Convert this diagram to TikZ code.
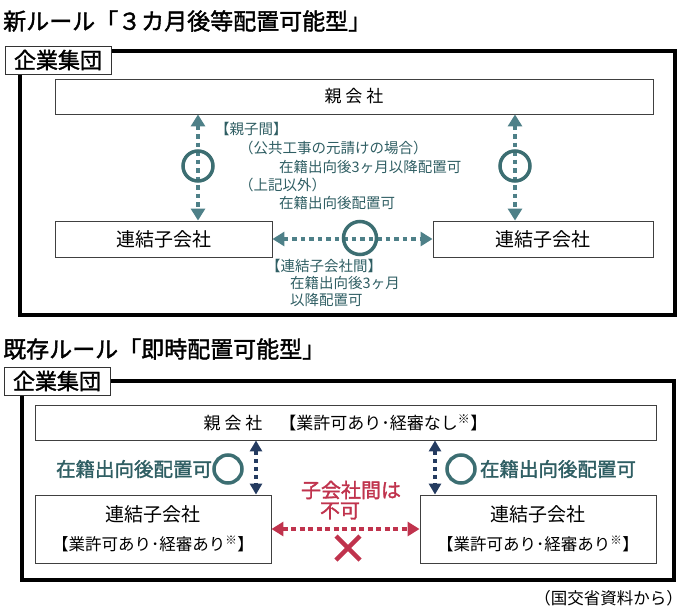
\documentclass[tikz,border=0pt]{standalone}
\usepackage{fontspec}
\setmainfont{Noto Sans CJK JP}
\newfontfamily\heavyfont[FakeBold=1.6]{Noto Sans CJK JP}
\usetikzlibrary{arrows.meta}
\definecolor{arrteal}{HTML}{4E8088}
\definecolor{ringteal}{HTML}{3C6E72}
\definecolor{txtteal}{HTML}{2F5E63}
\definecolor{arrnavy}{HTML}{243B60}
\definecolor{ngred}{HTML}{C0334D}
\begin{document}
\begin{tikzpicture}[x=1pt,y=-1pt,
	box/.style={draw=black!75,line width=0.9pt,fill=white,inner sep=0pt,align=center},
	frame/.style={line width=4pt},
	tag/.style={draw=black!80,line width=0.8pt,fill=white,inner sep=0pt,minimum width=106pt,minimum height=28pt,font=\heavyfont\fontsize{22}{22}\selectfont},
	title/.style={anchor=west,inner sep=0pt,font=\heavyfont\fontsize{23}{23}\selectfont},
	ring/.style={circle,draw=ringteal,line width=3.5pt,inner sep=0pt},
	okarrow/.style={arrteal,line width=4.5pt,dash pattern=on 4.5pt off 4pt,{Triangle[width=14pt,length=12pt]}-{Triangle[width=14pt,length=12pt]}},
	navyarrow/.style={arrnavy,line width=4pt,dash pattern=on 4pt off 4pt,{Triangle[width=12pt,length=11pt]}-{Triangle[width=12pt,length=11pt]}},
	ngarrow/.style={ngred,line width=4.5pt,dash pattern=on 5pt off 3.5pt,{Triangle[width=14pt,length=12pt]}-{Triangle[width=14pt,length=12pt]}},
	note/.style={anchor=west,inner sep=0pt,text=txtteal,font=\fontsize{14.5}{14.5}\selectfont},
	oktext/.style={inner sep=0pt,text=txtteal,font=\heavyfont\fontsize{19.5}{19.5}\selectfont},
	ngtext/.style={inner sep=0pt,text=ngred,font=\heavyfont\fontsize{20}{20}\selectfont}]
	\useasboundingbox (0,0) rectangle (685,613);
	
	% 新ルール
	\node[title] (title1) at (3,21) {新ルール「３カ月後等配置可能型」};
	\draw[frame] (20,51) rectangle (675,315);
	\node[tag] (group1) at (58,60) {企業集団};
	\node[box,minimum width=598pt,minimum height=35pt,font=\fontsize{17}{17}\selectfont] (oya1) at (354,96.5) {親 会 社};
	\node[box,minimum width=217pt,minimum height=36pt,font=\fontsize{19}{19}\selectfont] (koA1) at (163.5,239) {連結子会社};
	\node[box,minimum width=220pt,minimum height=36pt,font=\fontsize{19}{19}\selectfont] (koB1) at (543,239) {連結子会社};
	\coordinate (cL1) at (198,166);
	\coordinate (cR1) at (515,166);
	\coordinate (cM1) at (360,238);
	\draw[okarrow] (oya1.south -| cL1) -- (koA1.north -| cL1);
	\draw[okarrow] (oya1.south -| cR1) -- (koB1.north -| cR1);
	\draw[okarrow] (koA1.east) -- (koB1.west);
	\node[ring,minimum size=30pt] (ringL1) at (cL1) {};
	\node[ring,minimum size=30pt] (ringR1) at (cR1) {};
	\node[ring,minimum size=33pt] (ringM1) at (cM1) {};
	\node[note] (n1) at (215,129) {【親子間】};
	\node[note] (n2) at (239,148) {（公共工事の元請けの場合）};
	\node[note] (n3) at (279,167) {在籍出向後3ヶ月以降配置可};
	\node[note] (n4) at (239,185) {（上記以外）};
	\node[note] (n5) at (279,203) {在籍出向後配置可};
	\node[note] (n6) at (266,266) {【連結子会社間】};
	\node[note] (n7) at (290,283) {在籍出向後3ヶ月};
	\node[note] (n8) at (290,300) {以降配置可};
	
	% 既存ルール
	\node[title] (title2) at (3,349) {既存ルール「即時配置可能型」};
	\draw[frame] (22,381) rectangle (674,580);
	\node[tag] (group2) at (57,381) {企業集団};
	\node[box,minimum width=621pt,minimum height=35pt,font=\fontsize{17}{17}\selectfont] (oya2) at (345.5,422.5) {親 会 社\hspace{1em}【業許可あり･経審なし\textsuperscript{※}】};
	\node[box,minimum width=236pt,minimum height=68pt,font=\fontsize{19}{29}\selectfont] (koA2) at (153,529) {連結子会社\\{\fontsize{16.5}{29}\selectfont【業許可あり･経審あり\textsuperscript{※}】}};
	\node[box,minimum width=236pt,minimum height=68pt,font=\fontsize{19}{29}\selectfont] (koB2) at (538,529) {連結子会社\\{\fontsize{16.5}{29}\selectfont【業許可あり･経審あり\textsuperscript{※}】}};
	\coordinate (cL2) at (256,469);
	\coordinate (cR2) at (435,469);
	\draw[navyarrow] (oya2.south -| cL2) -- (koA2.north -| cL2);
	\draw[navyarrow] (oya2.south -| cR2) -- (koB2.north -| cR2);
	\node[ring,minimum size=28pt] (ringL2) at (228,469) {};
	\node[ring,minimum size=28pt] (ringR2) at (461,469) {};
	\node[oktext,anchor=east] (okL2) at (ringL2.west) {在籍出向後配置可};
	\node[oktext,anchor=west] (okR2) at ([xshift=3pt]ringR2.east) {在籍出向後配置可};
	\draw[ngarrow] (koA2.east) -- (koB2.west);
	\node[ngtext] (ng1) at (351,490) {子会社間は};
	\node[ngtext] (ng2) at (340,511) {不可};
	\draw[ngred,line width=4.5pt] (336,536) -- (360,560) (360,536) -- (336,560);
	\node[anchor=east,inner sep=0pt,font=\fontsize{16.5}{16.5}\selectfont] (source) at (683,598) {（国交省資料から）};
\end{tikzpicture}
\end{document}
